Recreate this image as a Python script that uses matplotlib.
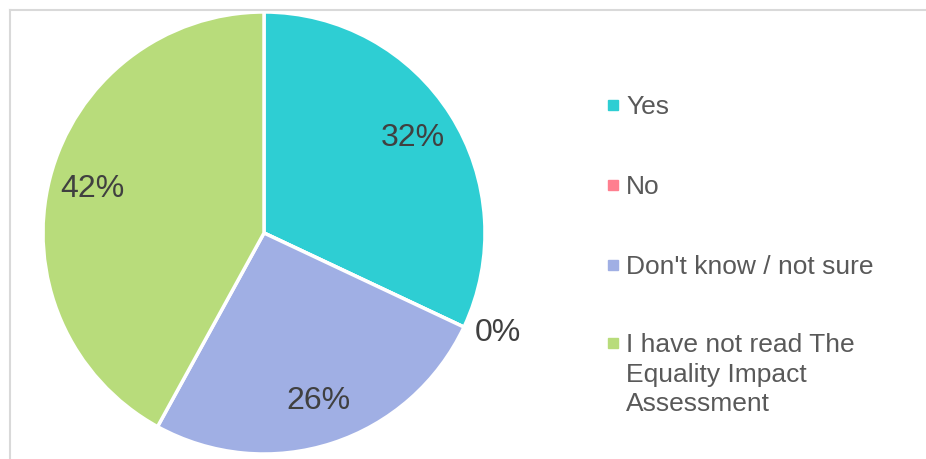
import matplotlib.pyplot as plt
from matplotlib.lines import Line2D
import numpy as np

plt.rcParams['font.family'] = ['Liberation Sans', 'DejaVu Sans']

# survey answers (percent)
answers = ["Yes", "No", "Don't know / not sure",
           "I have not read The\nEquality Impact\nAssessment"]
shares = [32, 0, 26, 42]
colours = ["#2ECED3", "#FF7F8F", "#A0AFE4", "#B8DC7B"]

W, H = 926, 459
fig = plt.figure(figsize=(W / 100, H / 100), dpi=100)

# chart border (top and left edge visible)
fig.add_artist(Line2D([10 / W, 10 / W], [0, 1 - 10 / H], color="#D9D9D9", lw=1.5))
fig.add_artist(Line2D([10 / W, 1], [1 - 10 / H, 1 - 10 / H], color="#D9D9D9", lw=1.5))

# pie: centre (264, 233) px, radius 221 px
cx, cy, r = 264, 233, 221
ax = fig.add_axes([(cx - r) / W, (H - cy - r) / H, 2 * r / W, 2 * r / H])

wedges, texts, pcts = ax.pie(shares, colors=colours, startangle=90, counterclock=False,
                            autopct="%.0f%%", pctdistance=0.8,
                            wedgeprops=dict(edgecolor="white", linewidth=2.5),
                            textprops=dict(color="#404040", fontsize=23))
ax.set_xlim(-1, 1)
ax.set_ylim(-1, 1)
ax.set_aspect("equal")
ax.axis("off")

# the empty slice gets its label pushed outside the pie
w = wedges[1]
mid = np.deg2rad((w.theta1 + w.theta2) / 2 + 2)
pcts[1].set_position((1.15 * np.cos(mid), 1.15 * np.sin(mid)))

# legend
legend_y = [105, 185, 265, 343]
for name, col, y in zip(answers, colours, legend_y):
    fig.add_artist(Line2D([613 / W], [1 - y / H], marker="s", markersize=6.5,
                          color=col, linestyle="none"))
    fig.text(626 / W, 1 - (y - 10) / H, name, fontsize=19, color="#595959",
             va="top", ha="left", linespacing=1.3)

fig.savefig("out.png", dpi=100)
